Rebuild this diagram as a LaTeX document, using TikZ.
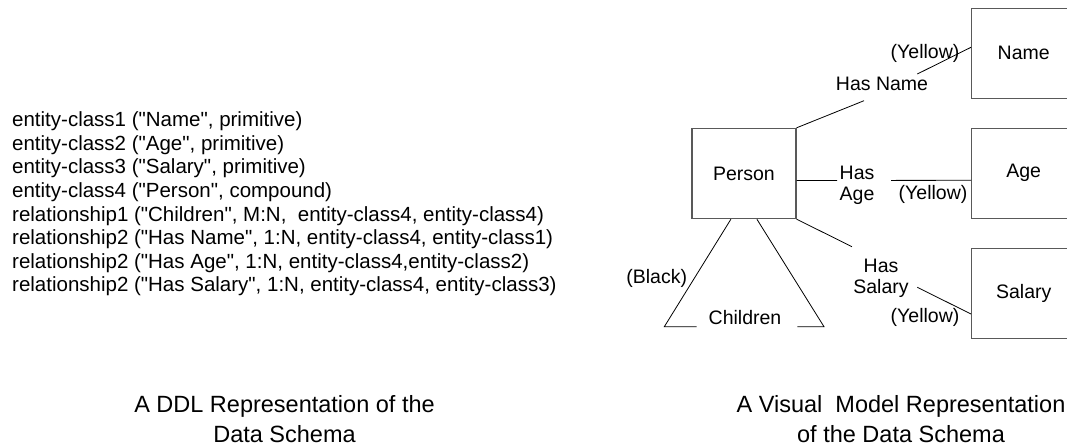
\documentclass[tikz,border=0pt]{standalone}
\usepackage{fontspec}
\newfontfamily\arialfont{Liberation Sans}
\begin{document}
\begin{tikzpicture}[x=1pt,y=-1pt,
  entity/.style={draw=black!65,line width=1.4pt,minimum width=104pt,minimum height=90pt,inner sep=0pt,font=\arialfont\fontsize{19.5}{23}\selectfont},
  conn/.style={line width=0.8pt},
  lbl/.style={inner sep=0pt,align=center,font=\arialfont\fontsize{19.5}{21}\selectfont},
  ddlline/.style={anchor=base west,inner sep=0pt,font=\arialfont\fontsize{20.5}{24}\selectfont},
  caption/.style={anchor=base,inner sep=0pt,font=\arialfont\fontsize{23.5}{28}\selectfont}]
\clip (0,0) rectangle (1067,445);
\node[ddlline] (ddl1) at (12,126.7) {entity-class1 ("Name", primitive)};
\node[ddlline] (ddl2) at (12,150.3) {entity-class2 ("Age", primitive)};
\node[ddlline] (ddl3) at (12,173.9) {entity-class3 ("Salary", primitive)};
\node[ddlline] (ddl4) at (12,197.5) {entity-class4 ("Person", compound)};
\node[ddlline] (ddl5) at (12,221.1) {relationship1 ("Children", M:N, \ entity-class4, entity-class4)};
\node[ddlline] (ddl6) at (12,244.7) {relationship2 ("Has Name", 1:N, entity-class4, entity-class1)};
\node[ddlline] (ddl7) at (12,268.3) {relationship2 ("Has Age", 1:N, entity-class4,entity-class2)};
\node[ddlline] (ddl8) at (12,291.9) {relationship2 ("Has Salary", 1:N, entity-class4, entity-class3)};
\node[entity] (person) at (743.9,173.5) {Person};
\node[entity] (name) at (1023.7,53.3) {Name};
\node[entity] (age) at (1023.7,173.3) {Age};
\node[entity] (salary) at (1023.7,293.3) {Salary};
\coordinate (hn1) at (864,100.7);
\coordinate (hn2) at (917.3,74);
\draw[conn] (person.north east) -- (hn1);
\draw[conn] (hn2) -- ([yshift=6pt]name.west);
\node[lbl] (hasname) at (882,83.7) {Has Name};
\node[lbl] (yelname) at (925,53.3) {(Yellow)};
\coordinate (ha1) at (837,180.4);
\coordinate (ha2) at (891,180.4);
\draw[conn] ([yshift=-7pt]person.east) -- (ha1);
\draw[conn] (ha2) -- ([yshift=-7pt]age.west);
\node[lbl] (hasage) at (857,185) {Has\\Age};
\node[lbl] (yelage) at (933,194) {(Yellow)};
\coordinate (hs1) at (852,246.7);
\coordinate (hs2) at (917.3,287.3);
\draw[conn] (person.south east) -- (hs1);
\draw[conn] (hs2) -- ([yshift=-20.7pt]salary.west);
\node[lbl] (hassalary) at (881,278) {Has\\Salary};
\node[lbl] (yelsalary) at (925,317.7) {(Yellow)};
\coordinate (chl) at (664.3,326.7);
\coordinate (chl2) at (696.7,326.7);
\coordinate (chr) at (824,326.7);
\coordinate (chr2) at (797.3,326.7);
\draw[conn] ([xshift=-13pt]person.south) -- (chl) -- (chl2);
\draw[conn] ([xshift=13pt]person.south) -- (chr) -- (chr2);
\node[lbl] (children) at (745,317.7) {Children};
\node[lbl] (black) at (656.7,278.3) {(Black)};
\node[caption] (ddlcap1) at (284.5,412) {A DDL Representation of the};
\node[caption] (ddlcap2) at (284.5,442) {Data Schema};
\node[caption] (viscap1) at (901,412) {A Visual \ Model Representation};
\node[caption] (viscap2) at (901,442) {of the Data Schema};
\end{tikzpicture}
\end{document}
